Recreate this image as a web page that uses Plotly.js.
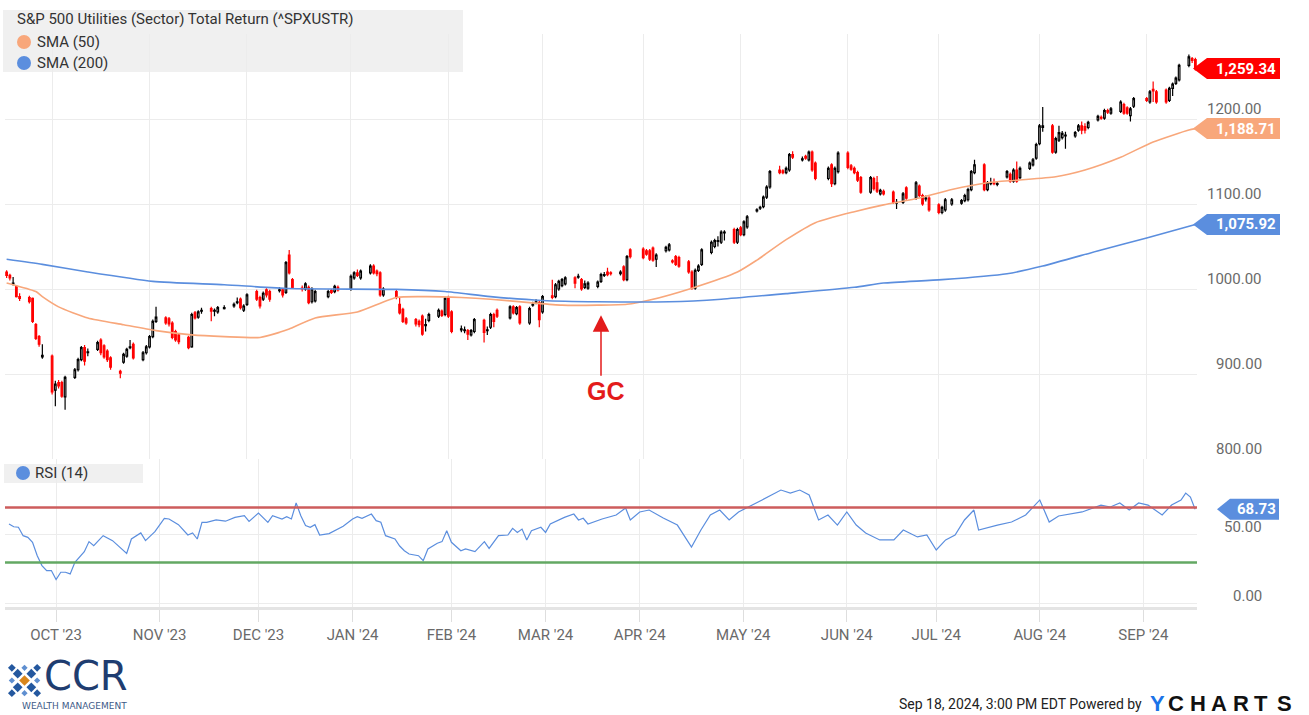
<!DOCTYPE html>
<html>
<head>
<meta charset="utf-8">
<script src="https://cdn.plot.ly/plotly-3.0.1.min.js"></script>
<style>html,body{margin:0;padding:0;background:#fff;}#chart{width:1309px;height:715px;}</style>
</head>
<body>
<div id="chart"></div>
<script>
const dates = [
'2023-09-18','2023-09-19','2023-09-20','2023-09-21','2023-09-22','2023-09-25','2023-09-26','2023-09-27','2023-09-28','2023-09-29',
'2023-10-02','2023-10-03','2023-10-04','2023-10-05','2023-10-06','2023-10-09','2023-10-10','2023-10-11','2023-10-12','2023-10-13',
'2023-10-16','2023-10-17','2023-10-18','2023-10-19','2023-10-20','2023-10-23','2023-10-24','2023-10-25','2023-10-26','2023-10-27',
'2023-10-30','2023-10-31','2023-11-01','2023-11-02','2023-11-03','2023-11-06','2023-11-07','2023-11-08','2023-11-09','2023-11-10',
'2023-11-13','2023-11-14','2023-11-15','2023-11-16','2023-11-17','2023-11-20','2023-11-21','2023-11-22','2023-11-24','2023-11-27',
'2023-11-28','2023-11-29','2023-11-30','2023-12-01','2023-12-04','2023-12-05','2023-12-06','2023-12-07','2023-12-08','2023-12-11',
'2023-12-12','2023-12-13','2023-12-14','2023-12-15','2023-12-18','2023-12-19','2023-12-20','2023-12-21','2023-12-22','2023-12-26',
'2023-12-27','2023-12-28','2023-12-29','2024-01-02','2024-01-03','2024-01-04','2024-01-05','2024-01-08','2024-01-09','2024-01-10',
'2024-01-11','2024-01-12','2024-01-16','2024-01-17','2024-01-18','2024-01-19','2024-01-22','2024-01-23','2024-01-24','2024-01-25',
'2024-01-26','2024-01-29','2024-01-30','2024-01-31','2024-02-01','2024-02-02','2024-02-05','2024-02-06','2024-02-07','2024-02-08',
'2024-02-09','2024-02-12','2024-02-13','2024-02-14','2024-02-15','2024-02-16','2024-02-20','2024-02-21','2024-02-22','2024-02-23',
'2024-02-26','2024-02-27','2024-02-28','2024-02-29','2024-03-01','2024-03-04','2024-03-05','2024-03-06','2024-03-07','2024-03-08',
'2024-03-11','2024-03-12','2024-03-13','2024-03-14','2024-03-15','2024-03-18','2024-03-19','2024-03-20','2024-03-21','2024-03-22',
'2024-03-25','2024-03-26','2024-03-27','2024-03-28','2024-04-01','2024-04-02','2024-04-03','2024-04-04','2024-04-05','2024-04-08',
'2024-04-09','2024-04-10','2024-04-11','2024-04-12','2024-04-15','2024-04-16','2024-04-17','2024-04-18','2024-04-19','2024-04-22',
'2024-04-23','2024-04-24','2024-04-25','2024-04-26','2024-04-29','2024-04-30','2024-05-01','2024-05-02','2024-05-03','2024-05-06',
'2024-05-07','2024-05-08','2024-05-09','2024-05-10','2024-05-13','2024-05-14','2024-05-15','2024-05-16','2024-05-17','2024-05-20',
'2024-05-21','2024-05-22','2024-05-23','2024-05-24','2024-05-28','2024-05-29','2024-05-30','2024-05-31','2024-06-03','2024-06-04',
'2024-06-05','2024-06-06','2024-06-07','2024-06-10','2024-06-11','2024-06-12','2024-06-13','2024-06-14','2024-06-17','2024-06-18',
'2024-06-20','2024-06-21','2024-06-24','2024-06-25','2024-06-26','2024-06-27','2024-06-28','2024-07-01','2024-07-02','2024-07-03',
'2024-07-05','2024-07-08','2024-07-09','2024-07-10','2024-07-11','2024-07-12','2024-07-15','2024-07-16','2024-07-17','2024-07-18',
'2024-07-19','2024-07-22','2024-07-23','2024-07-24','2024-07-25','2024-07-26','2024-07-29','2024-07-30','2024-07-31','2024-08-01',
'2024-08-02','2024-08-05','2024-08-06','2024-08-07','2024-08-08','2024-08-09','2024-08-12','2024-08-13','2024-08-14','2024-08-15',
'2024-08-16','2024-08-19','2024-08-20','2024-08-21','2024-08-22','2024-08-23','2024-08-26','2024-08-27','2024-08-28','2024-08-29',
'2024-08-30','2024-09-03','2024-09-04','2024-09-05','2024-09-06','2024-09-09','2024-09-10','2024-09-11','2024-09-12','2024-09-13',
'2024-09-16','2024-09-17','2024-09-18'
];

const open = [
1020,1016,1006,1003,991,990,989,958,944,920, 921,881,890,890,873,896,905,917,931,925,
929,940,933,927,919,903,914,921,931,935, 917,925,932,944,962,966,965,960,950,946,
943,932,972,967,974,977,974,973,977,980, 984,988,975,982,997,990,988,999,997,998,
999,996,1040,1011,1001,1000,1002,985,986,991, 998,997,1002,1000,1013,1019,1013,1019,1027,1021,
1019,993,997,982,976,965,964,962,968,957, 963,968,974,970,990,973,952,951,951,946,
950,963,951,955,970,975,966,979,971,979, 960,981,984,984,973,992,991,1000,1004,1006,
1013,1014,1011,1002,1001,1003,1009,1016,1020,1019, 1018,1026,1011,1046,1047,1045,1045,1048,1035,1045,
1046,1033,1038,1037,1032,1020,1001,1022,1029,1043, 1050,1056,1055,1066,1070,1055,1072,1064,1073,1092,
1095,1097,1108,1120,1140,1139,1137,1140,1158,1152, 1156,1152,1161,1148,1130,1146,1124,1138,1160,1145,
1142,1137,1131,1114,1130,1125,1112,1115,1114,1101, 1102,1119,1107,1121,1110,1106,1107,1099,1090,1093,
1100,1101,1104,1105,1117,1137,1146,1117,1124,1125, 1123,1132,1135,1127,1140,1131,1142,1146,1154,1171,
1190,1192,1161,1175,1178,1180,1180,1187,1192,1191, 1190,1199,1202,1201,1210,1207,1209,1217,1213,1204,
1215,1224,1220,1235,1232,1234,1222,1236,1242,1246, 1263,1271,1270
];
const high = [
1022,1018,1014,1004,995,992,990,960,946,935, 923,892,893,892,898,907,919,933,934,930,
939,942,935,929,921,905,925,931,940,937, 927,934,946,964,979,968,967,962,952,948,
945,972,974,975,978,979,977,980,981,984, 990,990,982,995,999,992,997,1001,999,1002,
1001,1033,1046,1013,1004,1008,1004,1002,999,999, 1000,1005,1004,1017,1021,1023,1023,1029,1029,1023,
1021,1002,999,990,978,967,966,964,970,965, 972,977,976,991,992,975,957,956,953,953,
966,965,956,972,972,977,981,981,980,981, 979,985,988,986,993,1011,1007,1011,1013,1015,
1015,1018,1013,1010,1009,1010,1019,1020,1025,1021, 1022,1028,1040,1048,1049,1047,1047,1050,1042,1051,
1054,1035,1040,1039,1034,1022,1024,1029,1048,1057, 1059,1062,1069,1069,1072,1072,1074,1081,1087,1095,
1098,1110,1122,1140,1145,1141,1144,1160,1162,1156, 1158,1163,1163,1150,1144,1148,1144,1162,1162,1147,
1144,1139,1133,1133,1132,1133,1118,1117,1116,1106, 1114,1121,1127,1123,1112,1110,1109,1101,1098,1107,
1107,1106,1112,1119,1140,1152,1148,1127,1131,1130, 1127,1140,1137,1142,1150,1144,1150,1154,1172,1194,
1214,1194,1179,1192,1186,1185,1186,1194,1197,1195, 1198,1205,1204,1212,1212,1214,1222,1219,1215,1214,
1226,1226,1234,1244,1234,1236,1238,1243,1250,1265, 1276,1273,1272
];
const low = [
1013,1010,1004,990,986,983,960,940,932,918, 876,862,883,872,858,894,903,915,910,921,
927,922,918,914,905,895,912,919,929,917, 915,923,930,942,960,958,956,941,938,935,
929,931,964,965,971,962,968,971,976,978, 982,976,973,980,986,977,986,990,985,996,
990,994,1017,1000,997,998,982,983,984,989, 994,995,997,998,1011,1014,1011,1017,1017,1015,
991,991,988,970,960,958,956,955,945,950, 961,966,967,968,966,948,949,948,940,944,
948,937,946,953,955,966,964,970,969,958, 958,979,982,955,971,988,989,998,1002,1004,
1001,1012,998,1000,999,1001,1007,1014,1015,1016, 1016,1009,1009,1036,1035,1039,1033,1032,1026,1043,
1044,1030,1027,1025,1018,999,999,1020,1027,1041, 1048,1050,1053,1057,1053,1053,1062,1062,1071,1090,
1093,1095,1106,1118,1135,1135,1135,1138,1153,1150, 1152,1150,1138,1128,1128,1120,1122,1136,1141,1139,
1135,1126,1112,1112,1116,1113,1110,1110,1100,1094, 1100,1105,1105,1108,1098,1103,1091,1088,1088,1091,
1098,1099,1102,1103,1115,1135,1115,1115,1122,1122, 1121,1130,1125,1125,1125,1129,1140,1144,1152,1169,
1185,1159,1159,1173,1176,1165,1178,1185,1182,1183, 1188,1197,1199,1199,1206,1205,1207,1205,1205,1197,
1213,1220,1218,1220,1218,1218,1220,1227,1240,1244, 1261,1266,1257
];
const close = [
1016,1013,1007,991,989,985,962,942,935,922, 879,888,886,874,896,905,917,931,915,926,
937,925,920,917,908,901,923,929,932,919, 925,932,944,962,967,960,959,943,940,938,
931,970,966,973,975,974,975,978,978,982, 985,978,980,993,988,980,995,993,988,999,
993,1031,1019,1002,1000,1006,984,1000,997,997, 996,1003,999,1015,1019,1016,1021,1027,1019,1018,
993,1000,990,972,962,960,959,958,947,958, 970,975,969,989,968,950,953,952,947,951,
964,949,952,970,962,968,979,972,978,960, 977,982,985,964,991,990,1005,1009,1011,1013,
1007,1015,1000,1006,1007,1008,1017,1017,1017,1018, 1020,1011,1038,1038,1037,1041,1035,1034,1040,1049,
1052,1032,1029,1027,1020,1001,1022,1027,1046,1055, 1057,1057,1067,1067,1055,1070,1064,1079,1085,1093,
1096,1108,1120,1138,1137,1137,1142,1158,1155,1153, 1154,1161,1140,1130,1142,1124,1142,1160,1143,1141,
1137,1128,1114,1131,1118,1115,1116,1112,1102,1102, 1112,1107,1125,1110,1100,1107,1093,1090,1096,1105,
1105,1104,1110,1117,1138,1146,1117,1125,1125,1124, 1124,1138,1127,1140,1127,1142,1148,1152,1170,1192,
1192,1161,1177,1184,1183,1181,1184,1192,1187,1187, 1196,1203,1201,1210,1208,1212,1220,1207,1207,1212,
1224,1222,1232,1233,1220,1220,1236,1241,1248,1263, 1273,1269,1259.34
];

const sma50Dates = ['2023-09-18','2023-09-20','2023-09-27','2023-09-29','2023-10-04','2023-10-13','2023-10-24','2023-11-03','2023-11-14','2023-11-24',
'2023-12-05','2023-12-11','2023-12-14','2023-12-22','2024-01-04','2024-01-16','2024-01-25','2024-02-05','2024-02-14','2024-02-26',
'2024-03-07','2024-03-18','2024-03-27','2024-04-03','2024-04-16','2024-04-30','2024-05-06','2024-05-15','2024-05-24','2024-06-05',
'2024-06-14','2024-06-25','2024-07-05','2024-07-16','2024-07-25','2024-08-06','2024-08-15','2024-08-26','2024-09-05','2024-09-16','2024-09-18'];
const sma50Values = [1007,1005,997,991,979,966,958,951,946,944,
943,949,953,966,973,990,991,990,988,984,
981,981,982,987,1001,1020,1034,1058,1078,1091,
1099,1107,1117,1125,1128,1132,1140,1155,1173,1187,1188.71];

const sma200Dates = ['2023-09-18','2023-09-29','2023-10-13','2023-11-02','2023-11-24','2023-12-14','2024-01-16','2024-01-31','2024-02-14','2024-03-01',
'2024-03-18','2024-04-09','2024-04-25','2024-05-15','2024-06-05','2024-06-14','2024-07-02','2024-07-22','2024-08-02','2024-08-20','2024-09-03','2024-09-18'];
const sma200Values = [1035,1029,1020,1009,1005,1000.5,999.5,997,991,986.5,
985,985,988,994.6,1002,1007,1011,1018,1027,1046,1060,1075.92];

const rsiDates = ['2023-09-18','2023-09-19','2023-09-20','2023-09-21','2023-09-22','2023-09-25','2023-09-26','2023-09-27','2023-09-28','2023-09-29',
'2023-10-02','2023-10-03','2023-10-04','2023-10-05','2023-10-06','2023-10-10','2023-10-11','2023-10-12','2023-10-16','2023-10-18',
'2023-10-23','2023-10-24','2023-10-26','2023-10-27','2023-10-31','2023-11-02','2023-11-03','2023-11-07','2023-11-09','2023-11-10',
'2023-11-13','2023-11-14','2023-11-15','2023-11-17','2023-11-21','2023-11-24','2023-11-28','2023-11-29','2023-12-01','2023-12-05',
'2023-12-06','2023-12-08','2023-12-11','2023-12-12','2023-12-13','2023-12-14','2023-12-15','2023-12-18','2023-12-19','2023-12-20',
'2023-12-22','2023-12-27','2023-12-28','2024-01-02','2024-01-03','2024-01-04','2024-01-08','2024-01-09','2024-01-10','2024-01-11',
'2024-01-16','2024-01-17','2024-01-18','2024-01-19','2024-01-23','2024-01-24','2024-01-25','2024-01-29','2024-01-30','2024-01-31',
'2024-02-01','2024-02-05','2024-02-06','2024-02-08','2024-02-12','2024-02-13','2024-02-15','2024-02-20','2024-02-21','2024-02-22',
'2024-02-23','2024-02-26','2024-02-27','2024-02-29','2024-03-01','2024-03-04','2024-03-07','2024-03-11','2024-03-12','2024-03-13',
'2024-03-14','2024-03-19','2024-03-22','2024-03-26','2024-03-27','2024-04-01','2024-04-03','2024-04-08','2024-04-11','2024-04-16',
'2024-04-18','2024-04-22','2024-04-24','2024-04-26','2024-04-30','2024-05-07','2024-05-13','2024-05-15','2024-05-17','2024-05-21',
'2024-05-23','2024-05-28','2024-05-30','2024-06-03','2024-06-05','2024-06-07','2024-06-12','2024-06-17','2024-06-20','2024-06-25',
'2024-06-27','2024-07-01','2024-07-03','2024-07-08','2024-07-10','2024-07-12','2024-07-15','2024-07-19','2024-07-24','2024-07-29',
'2024-08-01','2024-08-05','2024-08-07','2024-08-14','2024-08-20','2024-08-22','2024-08-26','2024-08-28','2024-08-30','2024-09-04',
'2024-09-09','2024-09-11','2024-09-13','2024-09-16','2024-09-17','2024-09-18'];
const rsiValues = [58,56,55.6,49.5,48.3,44.7,35,27.8,24.2,24.2,
17.7,23,23,21.8,30.2,37.9,45.2,42.3,49.5,45.9,
36.7,47.1,51.5,45.9,52.4,62.1,61.6,57.5,50,51.5,
47.1,59.2,59.2,61,60,62.8,64,59.9,65.9,59.2,
64,61.6,63.3,61.6,73.2,64,56.8,55.6,57.5,50,
51,54.3,56.3,61.6,63.3,62.1,65.2,60.4,59.2,49.5,
47.1,42,38.6,36.2,35,31.4,39.9,44,45.2,53.1,
44.7,38.6,39.9,37.9,45.2,40.3,49.5,50,54.8,51.9,
54.3,46.4,53.1,55.6,51.9,58,62.8,65.2,60.9,62.1,
58,61.6,64.5,69.6,60.9,66.7,68.1,62.3,57.2,41.3,
53.6,64.5,68.1,60.9,66.7,75.4,82.6,80.4,82.6,79,
60.9,64.5,57.2,66.7,57.2,51.4,46.4,46.4,53.6,48.6,
50,39.1,46.4,50,60.9,68.1,53.6,57.2,59.4,64.5,
75.4,59.4,63.8,66.7,71.7,70.3,73.2,68.1,73.2,71.7,
64.5,71.7,75.4,80.4,77.5,68.73];

const monthTickDates = ['2023-10-02','2023-11-01','2023-12-01','2024-01-02','2024-02-01','2024-03-01','2024-04-01','2024-05-01','2024-06-03','2024-07-01','2024-08-01','2024-09-03'];
const monthTickLabels = ["OCT '23","NOV '23","DEC '23","JAN '24","FEB '24","MAR '24","APR '24","MAY '24","JUN '24","JUL '24","AUG '24","SEP '24"];
const priceTicks = [800,900,1000,1100,1200];
const rsiTicks = [0,50];
const rsiOverbought = 70, rsiOversold = 30;
const gcDate = '2024-03-19';

// ---- layout helpers (pixel -> paper) ----
const L = 5, R = 1197, T = 34, B = 607;
const px = x => (x - L) / (R - L);
const py = y => (B - y) / (B - T);
const fmt = v => v.toLocaleString('en-US', {minimumFractionDigits: 2, maximumFractionDigits: 2});

const C_UP = '#000000', C_DN = '#ff0000', C_SMA50 = '#f8a77b', C_SMA200 = '#5b8ede';
const GRID = '#ececec';

const data = [
  {type: 'candlestick', x: dates, open: open, high: high, low: low, close: close,
   xaxis: 'x2', yaxis: 'y', whiskerwidth: 0, hoverinfo: 'skip', showlegend: false,
   increasing: {line: {color: C_UP, width: 1.2}, fillcolor: '#ffffff'},
   decreasing: {line: {color: C_DN, width: 1.2}, fillcolor: C_DN}},
  {type: 'scatter', mode: 'lines', x: sma50Dates, y: sma50Values, xaxis: 'x2', yaxis: 'y',
   line: {color: C_SMA50, width: 1.6, shape: 'spline', smoothing: 0.6}, hoverinfo: 'skip', showlegend: false},
  {type: 'scatter', mode: 'lines', x: sma200Dates, y: sma200Values, xaxis: 'x2', yaxis: 'y',
   line: {color: C_SMA200, width: 1.6, shape: 'spline', smoothing: 0.6}, hoverinfo: 'skip', showlegend: false},
  {type: 'scatter', mode: 'lines', x: rsiDates, y: rsiValues, xaxis: 'x', yaxis: 'y2',
   line: {color: C_SMA200, width: 1.2}, hoverinfo: 'skip', showlegend: false}
];

const shapes = [];
const annotations = [];

// legend boxes
shapes.push({type: 'rect', xref: 'paper', yref: 'paper', x0: px(3), x1: px(463), y0: py(72), y1: py(10),
  fillcolor: 'rgba(236,236,236,0.8)', line: {width: 0}});
shapes.push({type: 'rect', xref: 'paper', yref: 'paper', x0: px(4), x1: px(143), y0: py(483), y1: py(464),
  fillcolor: 'rgba(236,236,236,0.8)', line: {width: 0}});
function dot(xp, yp, color) {
  shapes.push({type: 'circle', xref: 'paper', yref: 'paper', xsizemode: 'pixel', ysizemode: 'pixel',
    xanchor: px(xp), yanchor: py(yp), x0: -7, x1: 7, y0: -7, y1: 7, fillcolor: color, line: {width: 0}});
}
dot(24, 42, C_SMA50);
dot(24, 63, C_SMA200);
dot(23, 473, C_SMA200);

const legFont = {family: 'Roboto', size: 15, color: '#333333'};
annotations.push({xref: 'paper', yref: 'paper', x: px(15), y: py(19), xanchor: 'left', yanchor: 'middle',
  text: 'S&P 500 Utilities (Sector) Total Return (^SPXUSTR)', showarrow: false, font: legFont});
annotations.push({xref: 'paper', yref: 'paper', x: px(35), y: py(42), xanchor: 'left', yanchor: 'middle',
  text: 'SMA (50)', showarrow: false, font: legFont});
annotations.push({xref: 'paper', yref: 'paper', x: px(35), y: py(63), xanchor: 'left', yanchor: 'middle',
  text: 'SMA (200)', showarrow: false, font: legFont});
annotations.push({xref: 'paper', yref: 'paper', x: px(33), y: py(473), xanchor: 'left', yanchor: 'middle',
  text: 'RSI (14)', showarrow: false, font: legFont});

// RSI reference lines
shapes.push({type: 'line', xref: 'paper', yref: 'y2', x0: 0, x1: 1, y0: rsiOverbought, y1: rsiOverbought,
  line: {color: '#cd5c5c', width: 2.5}});
shapes.push({type: 'line', xref: 'paper', yref: 'y2', x0: 0, x1: 1, y0: rsiOversold, y1: rsiOversold,
  line: {color: '#63a863', width: 2.5}});

// axis value labels (right side, above gridlines)
const tickFont = {family: 'Roboto', size: 15, color: '#6a6a6a'};
priceTicks.forEach(v => annotations.push({xref: 'paper', yref: 'y', x: px(1263), y: v, xanchor: 'right', yanchor: 'bottom',
  text: v.toFixed(2), showarrow: false, font: tickFont, borderpad: 0}));
rsiTicks.forEach(v => annotations.push({xref: 'paper', yref: 'y2', x: px(1263), y: v, xanchor: 'right', yanchor: 'bottom',
  text: v.toFixed(2), showarrow: false, font: tickFont, borderpad: 0, yshift: -2}));

// value tags
function tag(yref, val, color, tipX, w, slant) {
  shapes.push({type: 'path', xref: 'paper', yref: yref, xsizemode: 'pixel', ysizemode: 'pixel',
    xanchor: px(tipX), yanchor: val,
    path: `M0,0 L${slant},10.5 L${w},10.5 L${w},-10.5 L${slant},-10.5 Z`,
    fillcolor: color, line: {width: 0}});
  annotations.push({xref: 'paper', yref: yref, x: px(1277), y: val, xanchor: 'right', yanchor: 'middle',
    text: '<b>' + fmt(val) + '</b>', showarrow: false, borderpad: 0,
    font: {family: 'Roboto', size: 15, color: '#ffffff'}});
}
tag('y', close[close.length - 1], '#ff0000', 1193, 87, 14);
tag('y', sma50Values[sma50Values.length - 1], C_SMA50, 1193, 87, 14);
tag('y', sma200Values[sma200Values.length - 1], C_SMA200, 1193, 87, 14);
tag('y2', rsiValues[rsiValues.length - 1], C_SMA200, 1217, 62, 13);

// GC annotation
annotations.push({xref: 'x2', yref: 'y', x: gcDate, y: 969, ax: 0, ay: 62, text: '', showarrow: true,
  arrowhead: 2, arrowsize: 2.2, arrowwidth: 1.5, arrowcolor: '#e31b1b'});
annotations.push({xref: 'paper', yref: 'paper', x: px(606), y: py(391), xanchor: 'center', yanchor: 'middle',
  text: '<b>GC</b>', showarrow: false, font: {family: 'Liberation Sans', size: 25, color: '#e31b1b'}});

// footer
annotations.push({xref: 'paper', yref: 'paper', x: px(1144), y: py(704), xanchor: 'right', yanchor: 'middle',
  text: 'Sep 18, 2024, 3:00 PM EDT Powered by', showarrow: false, font: {family: 'Roboto', size: 14, color: '#222222'}});
const yLetters = ['Y','C','H','A','R','T','S'];
const yLetterX = [1157,1176,1198,1219,1241,1261,1284];
yLetters.forEach((ch, k) => annotations.push({xref: 'paper', yref: 'paper', x: px(yLetterX[k]), y: py(703),
  xanchor: 'center', yanchor: 'middle', text: '<b>' + ch + '</b>', showarrow: false, borderpad: 0,
  font: {family: 'Liberation Sans', size: 22, color: k === 0 ? '#1a73e8' : '#111111'}}));
annotations.push({xref: 'paper', yref: 'paper', x: px(43), y: py(700), xanchor: 'left', yanchor: 'bottom',
  text: 'CCR', showarrow: false, borderpad: 0, font: {family: 'DejaVu Sans', size: 40, color: '#1f3d70'}});
annotations.push({xref: 'paper', yref: 'paper', x: px(74), y: py(700), xanchor: 'center', yanchor: 'top',
  text: 'WEALTH MANAGEMENT', showarrow: false, borderpad: 0, font: {family: 'DejaVu Sans', size: 9, color: '#3d5a87'}});

// logo emblem
function dia(cx, cy, r, c) { return `<polygon points='${cx},${cy-r} ${cx+r},${cy} ${cx},${cy+r} ${cx-r},${cy}' fill='${c}'/>`; }
let svg = "<svg xmlns='http://www.w3.org/2000/svg' width='36' height='36' viewBox='0 0 36 36'>";
[[11,11],[25,11],[11,25],[25,25]].forEach(p => svg += dia(p[0], p[1], 5, '#24589f'));
[[5,5],[31,5],[5,31],[31,31]].forEach(p => svg += dia(p[0], p[1], 4, '#24589f'));
[[18,5],[5,18],[31,18],[18,31]].forEach(p => svg += dia(p[0], p[1], 3.2, '#5f8fd0'));
svg += dia(18, 18, 5.5, '#d9861c');
svg += "</svg>";

const layout = {
  width: 1309, height: 715, autosize: false,
  margin: {l: L, r: 1309 - R, t: T, b: 715 - B, pad: 0},
  paper_bgcolor: '#ffffff', plot_bgcolor: '#ffffff',
  showlegend: false,
  font: {family: 'Roboto', color: '#333'},
  xaxis: {type: 'category', categoryorder: 'array', categoryarray: dates, range: [-0.85, 252.4],
    anchor: 'y2', domain: [0, 1], tickmode: 'array', tickvals: monthTickDates, ticktext: monthTickLabels,
    ticks: 'outside', ticklen: 12, tickwidth: 1, tickcolor: '#dedede',
    tickfont: {family: 'Roboto', size: 15, color: '#6a6a6a'},
    showgrid: true, gridcolor: GRID, gridwidth: 1, showline: true, linecolor: '#e4e4e4', linewidth: 3,
    zeroline: false, rangeslider: {visible: false}, fixedrange: true},
  xaxis2: {matches: 'x', anchor: 'y', domain: [0, 1], tickmode: 'array', tickvals: monthTickDates,
    showticklabels: false, ticks: '', showgrid: true, gridcolor: GRID, gridwidth: 1, showline: false,
    zeroline: false, rangeslider: {visible: false}, fixedrange: true},
  yaxis: {domain: [0.2583, 1], range: [800, 1300], side: 'right', anchor: 'x2', tickmode: 'array',
    tickvals: priceTicks, showticklabels: false, ticks: '', showgrid: true, gridcolor: GRID, gridwidth: 1,
    zeroline: false, showline: false, fixedrange: true},
  yaxis2: {domain: [0, 0.2583], range: [-2.2, 105.1], side: 'right', anchor: 'x', tickmode: 'array',
    tickvals: rsiTicks, showticklabels: false, ticks: '', showgrid: true, gridcolor: GRID, gridwidth: 1,
    zeroline: false, showline: false, fixedrange: true},
  shapes: shapes,
  annotations: annotations,
  images: [{source: 'data:image/svg+xml;charset=utf-8,' + encodeURIComponent(svg), xref: 'paper', yref: 'paper',
    x: px(7), y: py(663), sizex: 35 / (R - L), sizey: 35 / (B - T), xanchor: 'left', yanchor: 'top', sizing: 'stretch', layer: 'above'}]
};

Plotly.newPlot('chart', data, layout, {displayModeBar: false, staticPlot: true});
</script>
</body>
</html>
